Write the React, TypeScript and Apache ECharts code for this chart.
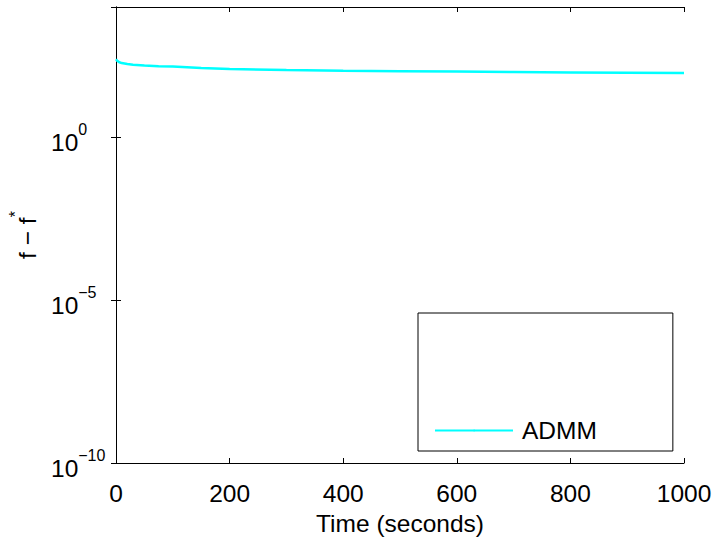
import React, { useEffect, useRef } from "react";
import * as echarts from "echarts";

const timeSeconds = [0, 2, 5, 10, 20, 30, 50, 75, 100, 150, 200, 300, 400, 500, 600, 700, 800, 900, 1000];
const admmGap = [250, 225, 205, 190, 178, 170, 160, 153, 148, 135, 125, 117, 111, 107, 104, 101, 98, 96, 94];
const xTicks = [0, 200, 400, 600, 800, 1000];
const seriesName = "ADMM";

const FONT = "'Liberation Sans', Arial, Helvetica, sans-serif";

export default function App() {
  const ref = useRef<HTMLDivElement>(null);
  useEffect(() => {
    if (!ref.current) return;
    const chart = echarts.init(ref.current, null, { renderer: "svg" });
    const data = timeSeconds.map((t, i) => [t, admmGap[i]]);
    const axisLine = { show: true, lineStyle: { color: "#000", width: 1 } };
    const tick = { show: true, inside: true, length: 5, lineStyle: { color: "#000", width: 1 } };
    const supRich = {
      b: { fontSize: 24.5, fontFamily: FONT, color: "#000", lineHeight: 35, verticalAlign: "bottom" },
      e: { fontSize: 16, fontFamily: FONT, color: "#000", lineHeight: 35, verticalAlign: "top", padding: [2, 0, 0, 0] },
    };
    const option: any = {
      animation: false,
      backgroundColor: "#fff",
      grid: { left: 116, top: 7, right: 32, bottom: 74, containLabel: false, outerBoundsMode: "none" },
      xAxis: [
        {
          type: "value",
          min: xTicks[0],
          max: xTicks[xTicks.length - 1],
          interval: 200,
          position: "bottom",
          axisLine,
          axisTick: tick,
          splitLine: { show: false },
          axisLabel: {
            color: "#000",
            fontSize: 24.5,
            fontFamily: FONT,
            margin: 18,
            formatter: (v: number) => String(v),
          },
          name: "Time (seconds)",
          nameLocation: "middle",
          nameGap: 40,
          nameTextStyle: { color: "#000", fontSize: 24.5, fontFamily: FONT },
        },
        {
          type: "value",
          min: xTicks[0],
          max: xTicks[xTicks.length - 1],
          interval: 200,
          position: "top",
          axisLine,
          axisTick: tick,
          splitLine: { show: false },
          axisLabel: { show: false },
        },
      ],
      yAxis: [
        {
          type: "log",
          logBase: 10,
          min: 1e-10,
          max: 1e4,
          interval: 5,
          position: "left",
          axisLine,
          axisTick: tick,
          splitLine: { show: false },
          minorTick: { show: false },
          axisLabel: {
            showMaxLabel: false,
            align: "left",
            margin: 65,
            formatter: (v: number) => {
              const e = Math.round(Math.log10(v));
              const s = e < 0 ? "\u2212" + Math.abs(e) : String(e);
              return "{b|10}{e|" + s + "}";
            },
            rich: supRich,
          },
          name: "{b|f \u2212 f}{e|*}",
          nameLocation: "middle",
          nameRotate: 90,
          nameGap: 72,
          nameTextStyle: { rich: supRich },
        },
        {
          type: "log",
          logBase: 10,
          min: 1e-10,
          max: 1e4,
          interval: 5,
          position: "right",
          axisLine,
          axisTick: tick,
          splitLine: { show: false },
          axisLabel: { show: false },
        },
      ],
      legend: {
        show: true,
        left: 418,
        top: 313,
        orient: "vertical",
        padding: [105, 76, 8, 16],
        itemWidth: 78,
        itemHeight: 2,
        borderColor: "#000",
        borderWidth: 1,
        borderRadius: 0,
        backgroundColor: "#fff",
        textStyle: { color: "#000", fontSize: 24.5, fontFamily: FONT, lineHeight: 24, padding: [0, 0, 0, 4] },
        data: [seriesName],
      },
      series: [
        {
          name: seriesName,
          type: "line",
          xAxisIndex: 0,
          yAxisIndex: 0,
          data,
          symbol: "none",
          showSymbol: false,
          smooth: false,
          lineStyle: { color: "#00FFFF", width: 2.5 },
          itemStyle: { color: "#00FFFF" },
        },
      ],
    };
    chart.setOption(option);
    return () => chart.dispose();
  }, []);
  return (
    <div
      ref={ref}
      style={{ position: "fixed", left: 0, top: 0, width: 716, height: 537, background: "#fff" }}
    />
  );
}
